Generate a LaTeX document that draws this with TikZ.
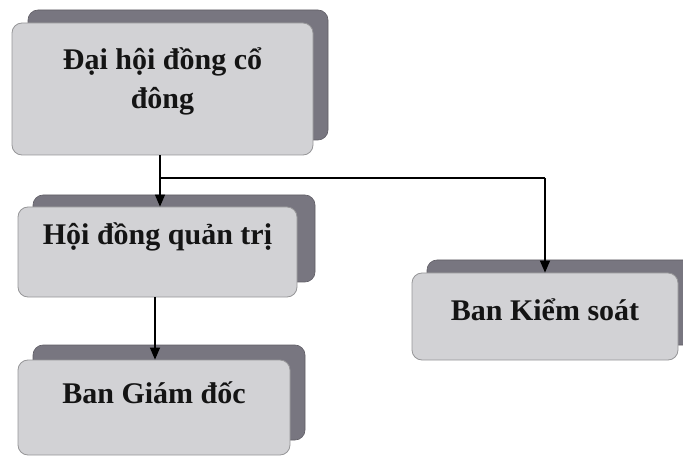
\documentclass[tikz,border=0pt]{standalone}
\usepackage{fontspec}
\setmainfont{Liberation Serif}
\usetikzlibrary{arrows.meta}
\definecolor{frontfill}{RGB}{210,210,213}
\definecolor{frontedge}{RGB}{150,150,152}
\definecolor{shadefill}{RGB}{120,118,128}
\newcommand\liftup[2]{\raisebox{#1}[\height][\depth]{#2}}
\tikzset{
  x=1pt, y=-1pt,
  frontbox/.style={draw=frontedge, line width=0.8pt, fill=frontfill, rounded corners=10pt, align=center,
    font=\fontsize{30}{38}\selectfont\bfseries, text=black!92, inner sep=0pt},
  shadebox/.style={fill=shadefill, draw=shadefill!80!black, line width=0.6pt, rounded corners=10pt},
  arr/.style={line width=1.3pt, -{Triangle[length=12pt,width=10pt]}},
  ln/.style={line width=1.3pt}
}
\begin{document}
\begin{tikzpicture}
\useasboundingbox (0,0) rectangle (683,457);
% shadows
\filldraw[shadebox] (28,10) rectangle (328,140);
\filldraw[shadebox] (33,195) rectangle (315,282);
\filldraw[shadebox] (33,345) rectangle (305,440);
\filldraw[shadebox] (427,260) rectangle (700,345);
% front boxes
\node[frontbox, minimum width=301pt, minimum height=132pt] (b1) at (162.5,89)
  {\liftup{8pt}{\begin{tabular}{@{}c@{}}Đại hội đồng cổ\\[1pt]đông\end{tabular}}};
\node[frontbox, minimum width=279pt, minimum height=90pt] (b2) at (157.5,252) {\liftup{15pt}{Hội đồng quản trị}};
\node[frontbox, minimum width=272pt, minimum height=95pt] (b3) at (154,407.5) {\liftup{15pt}{Ban Giám đốc}};
\node[frontbox, minimum width=266pt, minimum height=87pt] (b4) at (545,316.5) {\liftup{7pt}{Ban Kiểm soát}};
% connectors
\coordinate (j) at (160,178);
\coordinate (k) at (545,178);
\draw[arr] (b1.south -| j) -- (b2.north -| j);
\draw[ln] (j) -- (k);
\draw[arr] (k) -- (b4.north -| k);
\draw[arr] (b2.south -| 155,0) -- (b3.north -| 155,0);
\end{tikzpicture}
\end{document}
